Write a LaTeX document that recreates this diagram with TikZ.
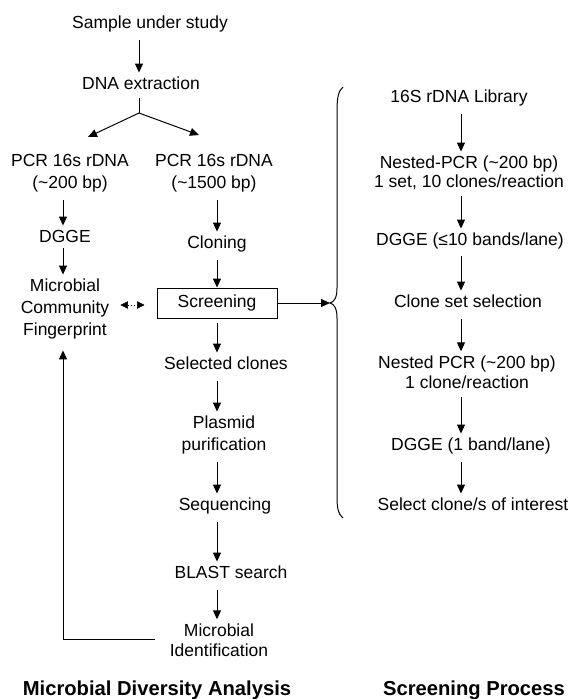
\documentclass[tikz,border=0pt]{standalone}
\usepackage{fontspec}
\setmainfont{Liberation Sans}
\usetikzlibrary{arrows.meta}
% invisible strut so every text line has the same height and depth
\newcommand{\sline}{\rule[-3.7pt]{0pt}{16.5pt}}
\begin{document}
\begin{tikzpicture}[x=1pt,y=-1pt,
  lbl/.style={inner sep=0pt, align=center, font=\fontsize{17.5}{22}\selectfont},
  lblt/.style={inner sep=0pt, align=center, font=\fontsize{17.5}{19}\selectfont},
  lblm/.style={inner sep=0pt, align=center, font=\fontsize{17.5}{20.5}\selectfont},
  ttl/.style={inner sep=0pt, font=\bfseries\fontsize{20.2}{24}\selectfont},
  ln/.style={line width=1pt},
  arr/.style={ln, -{Triangle[length=9pt,width=8pt]}, shorten <=8pt, shorten >=4pt},
  dbl/.style={line width=0.6pt, dash pattern=on 1.5pt off 1.5pt,
    {Triangle[length=7.5pt,width=7.5pt]}-{Triangle[length=7.5pt,width=7.5pt]},
    shorten <=11pt, shorten >=12pt},
  boxed/.style={draw, ln, minimum width=120pt, minimum height=30pt, inner sep=0pt,
    font=\fontsize{17.5}{22}\selectfont}]
\useasboundingbox (0,0) rectangle (572,699);

% vertical axes used by the arrows
\coordinate (ax0) at (139,0);
\coordinate (axA) at (63,0);
\coordinate (axB) at (217,0);
\coordinate (axC) at (461,0);

% ---- microbial diversity analysis ----
\node[lbl] (sample) at (150,24) {\sline Sample under study};
\node[lbl] (dna) at (141,85) {\sline DNA extraction};
\coordinate (split) at (139,113);
\coordinate (tipA) at (88,137);
\coordinate (tipB) at (199,135);
\node[lbl] (pcrA) at (70,173) {\sline PCR 16s rDNA\\\sline(\textasciitilde200 bp)};
\node[lbl] (pcrB) at (214,173) {\sline PCR 16s rDNA\\\sline(\textasciitilde1500 bp)};
\node[lbl] (dggeA) at (65,238) {\sline DGGE};
\node[lbl] (fp) at (65,309) {\sline Microbial\\\sline Community\\\sline Fingerprint};
\node[lbl] (clon) at (217,244) {\sline Cloning};
\node[boxed] (scr) at (217,303) {\sline Screening};
\node[lbl] (sel) at (226,365) {\sline Selected clones};
\node[lbl] (plas) at (224,435) {\sline Plasmid\\\sline purification};
\node[lbl] (seq) at (225,506) {\sline Sequencing};
\node[lbl] (blast) at (231,574) {\sline BLAST search};
\node[lblm] (mid) at (219,642) {\sline Microbial\\\sline Identification};

\draw[arr] (sample.south -| ax0) -- (dna.north -| ax0);
\draw[ln, shorten <=5pt] (dna.south -| ax0) -- (split);
\draw[arr, shorten <=0pt, shorten >=0pt] (split) -- (tipA);
\draw[arr, shorten <=0pt, shorten >=0pt] (split) -- (tipB);
\draw[arr] (pcrA.south -| axA) -- (dggeA.north -| axA);
\draw[arr, shorten <=2pt] (dggeA.south -| axA) -- (fp.north -| axA);
\draw[arr] (pcrB.south -| axB) -- (clon.north -| axB);
\draw[arr, shorten >=0pt] (clon.south -| axB) -- (scr.north -| axB);
\draw[arr, shorten <=4pt] (scr.south -| axB) -- (sel.north -| axB);
\draw[arr] (sel.south -| axB) -- (plas.north -| axB);
\draw[arr] (plas.south -| axB) -- (seq.north -| axB);
\draw[arr] (seq.south -| axB) -- (blast.north -| axB);
\draw[arr] (blast.south -| axB) -- (mid.north -| axB);
\draw[arr, shorten <=15pt, shorten >=11pt] ([yshift=3pt]mid.west) -| (fp.south -| axA);
\draw[dbl] ([yshift=-2pt]fp.east |- scr.west) -- ([yshift=-2pt]scr.west);

% ---- screening process ----
\coordinate (brtip) at (330,303);
\draw[arr, shorten <=0pt, shorten >=0pt] (scr.east) -- (brtip);
\draw[ln] (343,87) .. controls (338,91) and (337,99) .. (337,112)
  -- (337,288) .. controls (337,298) and (334,302) .. (brtip)
  .. controls (334,304) and (337,308) .. (337,318)
  -- (337,496) .. controls (337,508) and (338,514) .. (343,518);

\node[lbl] (lib) at (459,98) {\sline 16S rDNA Library};
\node[lblt] (n1) at (469,173.5) {\sline Nested-PCR (\textasciitilde200 bp)\\\sline 1 set, 10 clones/reaction};
\node[lbl] (dg1) at (470,241) {\sline DGGE (≤10 bands/lane)};
\node[lbl] (css) at (468,303) {\sline Clone set selection};
\node[lblm] (n2) at (467,374) {\sline Nested PCR (\textasciitilde200 bp)\\\sline 1 clone/reaction};
\node[lbl] (dg2) at (471,446) {\sline DGGE (1 band/lane)};
\node[lbl] (sel2) at (473,506) {\sline Select clone/s of interest};

\draw[arr] (lib.south -| axC) -- (n1.north -| axC);
\draw[arr, shorten <=5pt] (n1.south -| axC) -- (dg1.north -| axC);
\draw[arr, shorten <=7pt] (dg1.south -| axC) -- (css.north -| axC);
\draw[arr] (css.south -| axC) -- (n2.north -| axC);
\draw[arr, shorten <=4pt] (n2.south -| axC) -- (dg2.north -| axC);
\draw[arr] (dg2.south -| axC) -- (sel2.north -| axC);

% ---- titles ----
\node[ttl] (tA) at (157,690) {Microbial Diversity Analysis};
\node[ttl] (tB) at (474,690) {Screening Process};
\end{tikzpicture}
\end{document}
